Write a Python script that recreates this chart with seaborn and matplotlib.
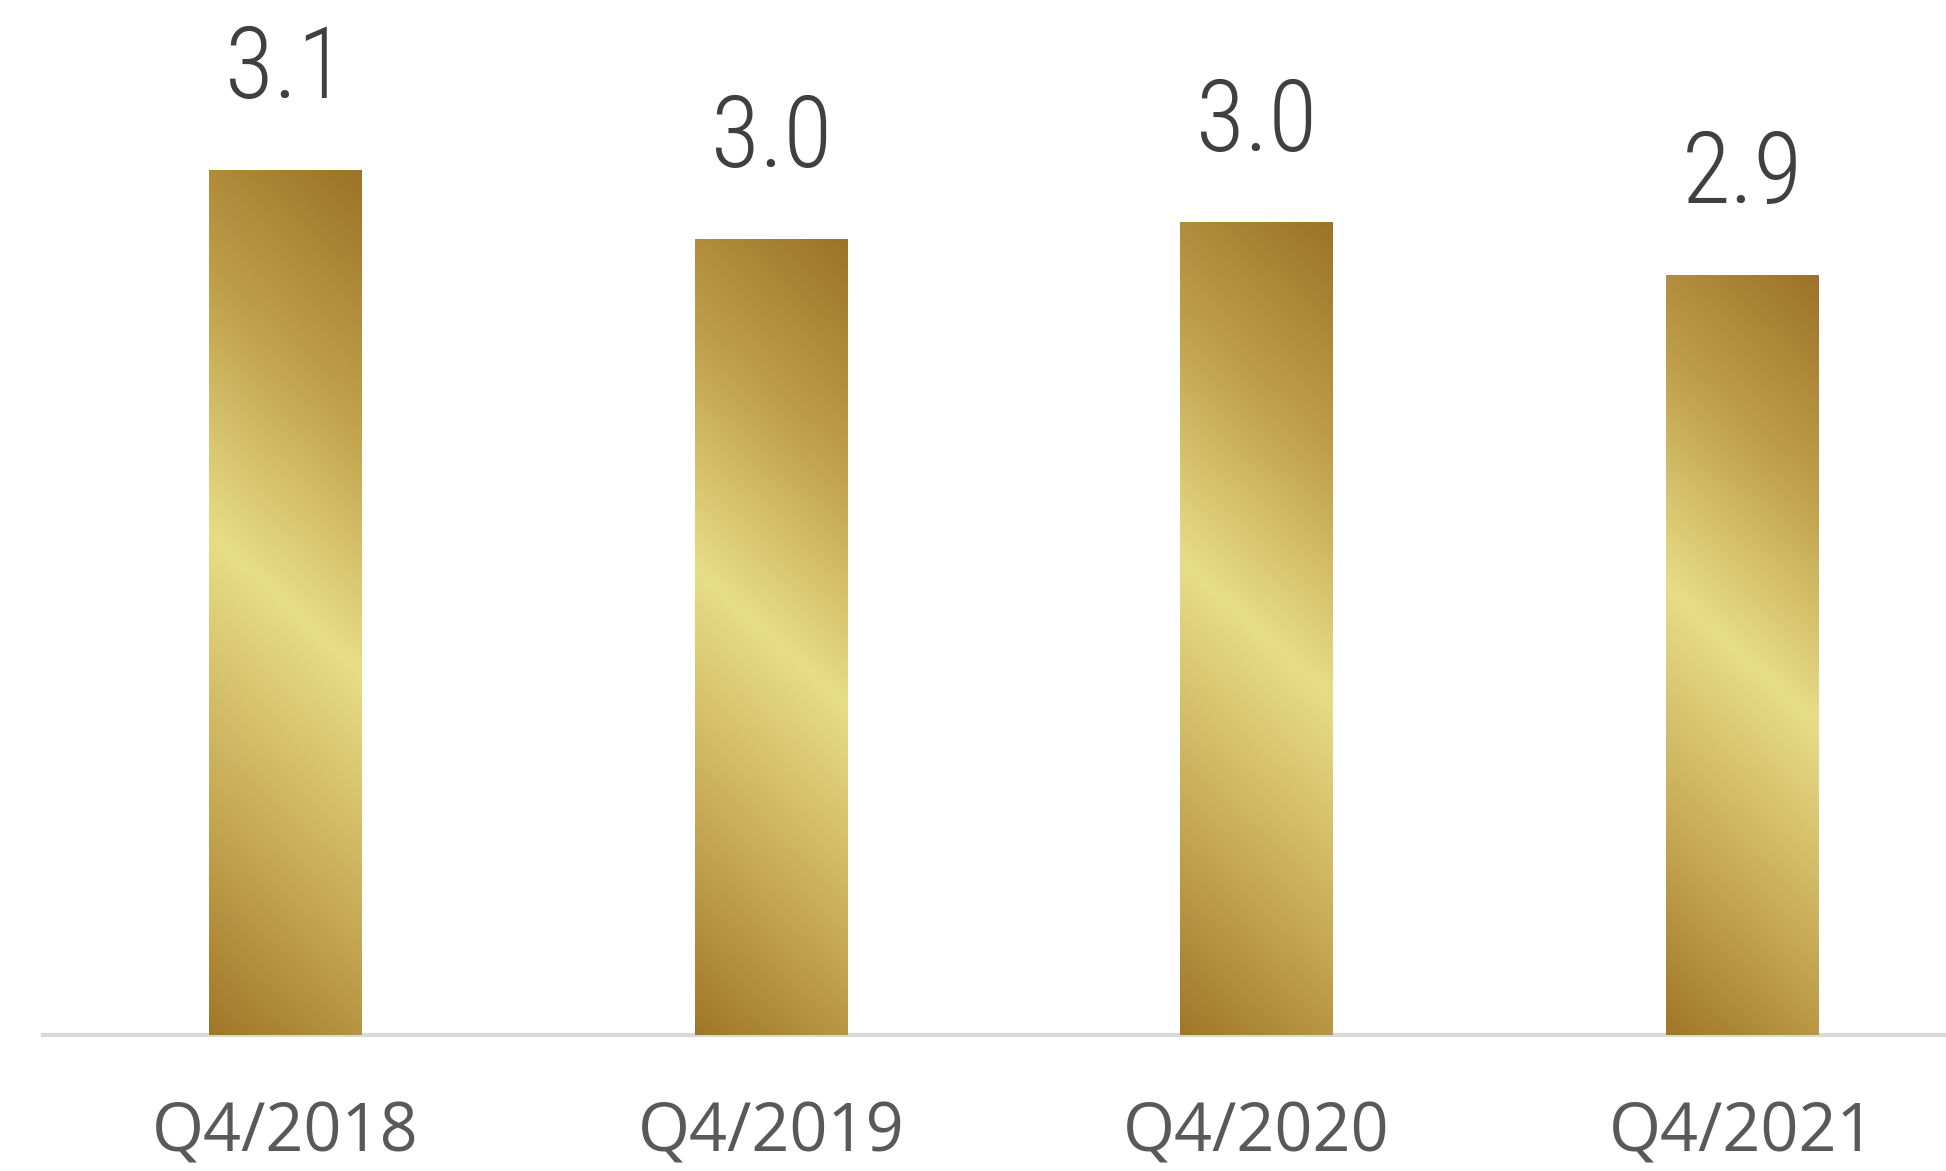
import numpy as np
import pandas as pd
import matplotlib
matplotlib.use("Agg")
import matplotlib.pyplot as plt
import matplotlib.font_manager as fm
from matplotlib.colors import LinearSegmentedColormap
import seaborn as sns

# ---- data ----
quarters = ["Q4/2018", "Q4/2019", "Q4/2020", "Q4/2021"]
values = [3.14, 2.97, 3.01, 2.88]
labels = ["3.1", "3.0", "3.0", "2.9"]

sns.set_theme(style="white")
plt.rcParams["font.family"] = ["Open Sans", "DejaVu Sans"]

names = {f.name for f in fm.fontManager.ttflist}
num_font = next((n for n in ["Roboto Condensed", "Liberation Sans Narrow",
                             "Open Sans Condensed", "DejaVu Sans"] if n in names),
                "DejaVu Sans")

W, H = 1946, 1171
fig = plt.figure(figsize=(W / 100, H / 100), dpi=100)
fig.patch.set_facecolor("white")
base_px = 1035
px_per_unit = 404.0
ymin = 1.0
ymax = ymin + base_px / px_per_unit
ax = fig.add_axes([42.75 / W, (H - base_px) / H, 1942 / W, base_px / H])

df = pd.DataFrame({"quarter": quarters, "value": values})
sns.barplot(data=df, x="quarter", y="value", width=0.315, color="#C9A74F",
            saturation=1, ax=ax)

ax.set_xlim(-0.5, 3.5)
ax.set_ylim(ymin, ymax)

cmap = LinearSegmentedColormap.from_list(
    "gold", [(0.0, "#9C7327"), (0.25, "#C0A04C"), (0.5, "#E8DD87"),
             (0.75, "#C9AC58"), (1.0, "#A07728")])

slope = 0.9
for p in list(ax.patches):
    x0 = p.get_x()
    w = p.get_width()
    y1 = p.get_y() + p.get_height()
    wpx = w * 485.5
    hpx = (y1 - ymin) * px_per_unit
    xs = np.linspace(0, wpx, 120)
    ys = np.linspace(0, hpx, 500)
    s = ys[:, None] - slope * xs[None, :]
    smin, smax = -slope * wpx, hpx
    smid = 0.5 * hpx - slope * wpx / 2
    t = np.where(s < smid, 0.5 * (s - smin) / (smid - smin),
                 0.5 + 0.5 * (s - smid) / (smax - smid))
    ax.imshow(cmap(t), extent=(x0, x0 + w, ymin, y1), origin="upper",
              aspect="auto", zorder=p.get_zorder(), interpolation="bilinear")
    p.set_facecolor("none")
    p.set_edgecolor("none")

ax.set_xlim(-0.5, 3.5)
ax.set_ylim(ymin, ymax)

for i, (v, lab) in enumerate(zip(values, labels)):
    ax.annotate(lab, xy=(i, v), xytext=(0, 72 * 0.72), textcoords="offset points",
                ha="center", va="baseline", fontsize=72, fontweight="light",
                color="#404040", family=[num_font, "DejaVu Sans"])

for sp in ["left", "top", "right"]:
    ax.spines[sp].set_visible(False)
ax.spines["bottom"].set_color("#D9D9D9")
ax.spines["bottom"].set_linewidth(3)
ax.spines["bottom"].set_zorder(0)
ax.set_yticks([])
ax.set_xlabel("")
ax.set_ylabel("")
ax.tick_params(axis="x", length=0, pad=47, labelsize=48, labelcolor="#595959")
for t in ax.get_xticklabels():
    t.set_family(["Open Sans", "DejaVu Sans"])

fig.savefig("out.png", dpi=100, facecolor="white")
